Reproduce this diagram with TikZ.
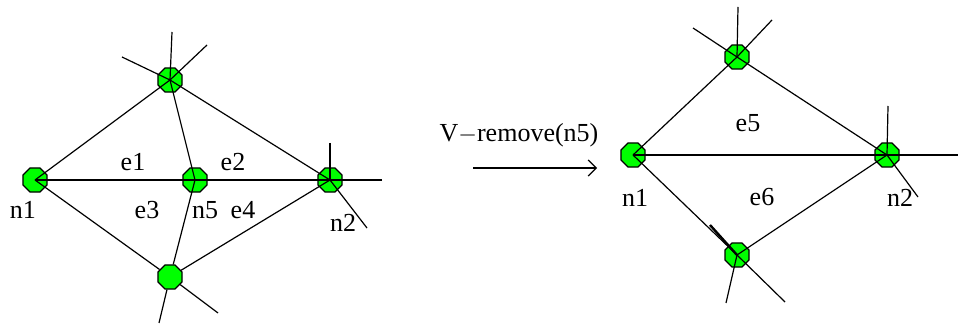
\documentclass[tikz,border=0pt]{standalone}
\usepackage{fontspec}
\setmainfont{Liberation Serif}
\usetikzlibrary{arrows.meta,shapes.geometric}

\begin{document}
\begin{tikzpicture}[x=0.5pt,y=-0.5pt,
    vert/.style={draw, regular polygon, regular polygon sides=8, minimum size=13pt, inner sep=0pt, fill=green, line width=0.6pt},
    edge/.style={line width=0.6pt},
    lbl/.style={font=\fontsize{13}{15}\selectfont, inner sep=0pt},
    arr/.style={-{Straight Barb[length=4pt]}, line width=0.6pt},
]
    \useasboundingbox (0,0) rectangle (958,325);

    % before: n5 in the middle
    \node[vert] (t1)  at (170, 80) {};
    \node[vert] (n1a) at ( 35,180) {};
    \node[vert] (n5)  at (195,180) {};
    \node[vert] (n2a) at (330,180) {};
    \node[vert] (b1)  at (170,277) {};

    \coordinate (t1u)  at (172, 32);
    \coordinate (t1r)  at (207, 45);
    \coordinate (t1l)  at (122, 57);
    \coordinate (n2au) at (330,143);
    \coordinate (n2ar) at (382,180);
    \coordinate (n2ad) at (367,228);
    \coordinate (b1l)  at (159,323);
    \coordinate (b1r)  at (218,313);

    \draw[edge] (n1a.center) -- (t1.center) -- (n2a.center);
    \draw[edge] (t1.center) -- (n5.center);
    \draw[edge] (n1a.center) -- (n5.center) -- (n2a.center);
    \draw[edge] (n1a.center) -- (b1);
    \draw[edge] (n5.center) -- (b1);
    \draw[edge] (n2a.center) -- (b1);
    \draw[edge] (t1u) -- (t1.center);
    \draw[edge] (t1r) -- (t1.center);
    \draw[edge] (t1l) -- (t1.center);
    \draw[edge] (n2au) -- (n2a.center);
    \draw[edge] (n2ar) -- (n2a.center);
    \draw[edge] (n2ad) -- (n2a.center);
    \draw[edge] (b1l) -- (b1);
    \draw[edge] (b1r) -- (b1);

    \node[lbl] (ln1a) at ( 23,210) {n1};
    \node[lbl] (le1)  at (133,162) {e1};
    \node[lbl] (le2)  at (233,162) {e2};
    \node[lbl] (le3)  at (147,210) {e3};
    \node[lbl] (ln5)  at (205,210) {n5};
    \node[lbl] (le4)  at (243,210) {e4};
    \node[lbl] (ln2a) at (343,223) {n2};

    % the operation
    \coordinate (op0) at (473,168);
    \coordinate (op1) at (597,168);
    \draw[arr] (op0) -- (op1);
    \node[lbl] (lop) at (519,135) {V$-$remove(n5)};

    % after: n5 removed
    \node[vert] (t2)  at (737, 57) {};
    \node[vert] (n1b) at (633,155) {};
    \node[vert] (n2b) at (887,155) {};
    \node[vert] (b2)  at (737,255) {};

    \coordinate (t2u)  at (738,  7);
    \coordinate (t2r)  at (772, 20);
    \coordinate (t2l)  at (693, 28);
    \coordinate (n2bu) at (888,106);
    \coordinate (n2br) at (958,155);
    \coordinate (n2bd) at (918,197);
    \coordinate (b2l)  at (726,303);
    \coordinate (b2r)  at (785,302);
    \coordinate (b2ul) at (710,225);

    \draw[edge] (n1b.center) -- (t2.center) -- (n2b.center);
    \draw[edge] (n1b.center) -- (n2b.center);
    \draw[edge] (n1b.center) -- (b2.center) -- (n2b.center);
    \draw[edge] (t2u) -- (t2.center);
    \draw[edge] (t2r) -- (t2.center);
    \draw[edge] (t2l) -- (t2.center);
    \draw[edge] (n2bu) -- (n2b.center);
    \draw[edge] (n2br) -- (n2b.center);
    \draw[edge] (n2bd) -- (n2b.center);
    \draw[line width=1.2pt] (b2ul) -- (b2.center);
    \draw[edge] (b2.center) -- (b2r);
    \draw[edge] (b2.center) -- (b2l);

    \node[lbl] (le5)  at (748,123) {e5};
    \node[lbl] (le6)  at (762,197) {e6};
    \node[lbl] (ln1b) at (635,198) {n1};
    \node[lbl] (ln2b) at (900,198) {n2};
\end{tikzpicture}
\end{document}
